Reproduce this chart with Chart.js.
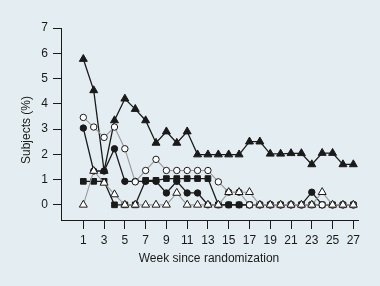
<!DOCTYPE html>
<html>
<head>
<meta charset="utf-8">
<script src="https://cdn.jsdelivr.net/npm/chart.js@4.4.1/dist/chart.umd.min.js"></script>
<style>
  html, body { margin: 0; padding: 0; background: #e4eef2; }
  #wrap { width: 380px; height: 286px; position: relative; }
</style>
</head>
<body>
<div id="wrap"><canvas id="subjectsChart"></canvas></div>
<script>
// Dados
const weeks = [1, 2, 3, 4, 5, 6, 7, 8, 9, 10, 11, 12, 13, 14, 15, 16, 17, 18, 19, 20, 21, 22, 23, 24, 25, 26, 27];
const weekTicks = [1, 3, 5, 7, 9, 11, 13, 15, 17, 19, 21, 23, 25, 27];
const yTicks = [0, 1, 2, 3, 4, 5, 6, 7];

const filledTriangles = [5.77, 4.53, 1.34, 3.34, 4.2, 3.79, 3.34, 2.45, 2.9, 2.45, 2.9, 1.99, 1.99, 1.99, 1.99, 1.99, 2.5, 2.5, 2.02, 2.02, 2.04, 2.04, 1.6, 2.05, 2.05, 1.6, 1.6];
const openCircles = [3.46, 3.08, 2.67, 3.08, 2.22, 0.91, 1.36, 1.8, 1.36, 1.36, 1.36, 1.36, 1.36, 0.91, 0.5, 0.5, 0, 0, 0, 0, 0, 0, 0, 0, 0, 0, 0];
const filledCircles = [3.04, 1.34, 1.34, 2.22, 0.93, 0.93, 0.93, 0.93, 0.47, 0.93, 0.47, 0.47, 0, 0, 0, 0, 0, 0, 0, 0, 0, 0, 0.5, 0, 0, 0, 0];
const filledSquares = [0.93, 0.93, 0.93, 0, 0, 0, 0.97, 0.97, 1.04, 1.04, 1.04, 1.04, 1.04, 0, 0, 0, 0, 0, 0, 0, 0, 0, 0, 0, 0, 0, 0];
const openTriangles = [0, 1.34, 0.87, 0.41, 0, 0, 0, 0, 0, 0.47, 0, 0, 0, 0, 0.5, 0.5, 0.5, 0, 0, 0, 0, 0, 0, 0.5, 0, 0, 0];

const BG = '#e4eef2';
const INK = '#1a1a1a';
const GREY = '#9a9a9a';

function toPoints(values) {
    return weeks.map((w, i) => ({ x: w, y: values[i] }));
}

function series(values, style, lineColor, fill, radius) {
    return {
        data: toPoints(values),
        borderColor: lineColor,
        borderWidth: lineColor === INK ? 1.3 : 1.1,
        pointStyle: style,
        pointRadius: radius,
        pointBackgroundColor: fill,
        pointBorderColor: INK,
        pointBorderWidth: 1,
        tension: 0,
        clip: false
    };
}

// Fundo e títulos dos eixos
const decorPlugin = {
    id: 'decor',
    beforeDraw(chart) {
        const ctx = chart.ctx;
        ctx.save();
        ctx.fillStyle = BG;
        ctx.fillRect(0, 0, chart.width, chart.height);
        ctx.restore();
    },
    afterDraw(chart) {
        const ctx = chart.ctx;
        ctx.save();
        ctx.fillStyle = INK;
        ctx.font = '12px "Liberation Sans", Arial, sans-serif';
        ctx.textAlign = 'center';
        ctx.textBaseline = 'middle';
        ctx.fillText('Week since randomization', 209, 259);
        ctx.translate(27, 130);
        ctx.rotate(-Math.PI / 2);
        ctx.fillText('Subjects (%)', 0, 0);
        ctx.restore();
    }
};

const ctx = document.getElementById('subjectsChart').getContext('2d');
new Chart(ctx, {
    type: 'line',
    data: {
        datasets: [
            series(openTriangles, 'triangle', GREY, '#ffffff', 4.6),
            series(openCircles, 'circle', GREY, '#ffffff', 3.2),
            series(filledTriangles, 'triangle', INK, INK, 4.6),
            series(filledSquares, 'rect', INK, INK, 4),
            series(filledCircles, 'circle', INK, INK, 3.2)
        ]
    },
    options: {
        responsive: true,
        maintainAspectRatio: false,
        animation: false,
        events: [],
        layout: { padding: { top: 28, right: 22, left: 0, bottom: 0 } },
        plugins: {
            legend: { display: false },
            tooltip: { enabled: false }
        },
        scales: {
            x: {
                type: 'linear',
                min: -1.15,
                max: 27.45,
                afterBuildTicks: scale => { scale.ticks = weekTicks.map(v => ({ value: v })); },
                afterFit: scale => { scale.height = 66; },
                border: { display: true, color: INK, width: 1 },
                grid: { drawOnChartArea: false, drawTicks: true, tickLength: 9, color: INK },
                ticks: {
                    autoSkip: false,
                    maxRotation: 0,
                    padding: 4,
                    color: INK,
                    font: { family: '"Liberation Sans", Arial, sans-serif', size: 12 }
                }
            },
            y: {
                min: -0.6,
                max: 7,
                afterBuildTicks: scale => { scale.ticks = yTicks.map(v => ({ value: v })); },
                afterFit: scale => { scale.width = 61; },
                border: { display: true, color: INK, width: 1 },
                grid: { drawOnChartArea: false, drawTicks: true, tickLength: 8, color: INK },
                ticks: {
                    padding: 5,
                    color: INK,
                    font: { family: '"Liberation Sans", Arial, sans-serif', size: 12 }
                }
            }
        }
    },
    plugins: [decorPlugin]
});
</script>
</body>
</html>
